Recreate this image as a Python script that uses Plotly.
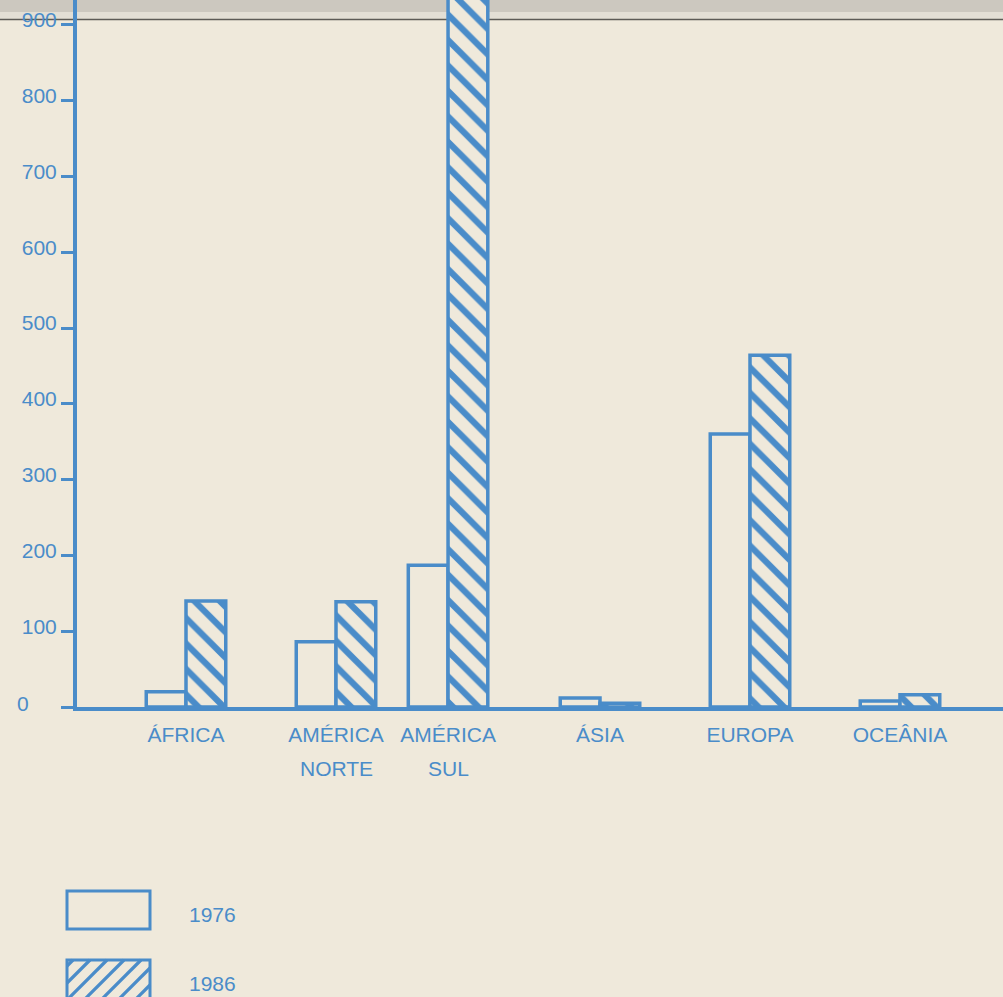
import plotly.graph_objects as go

# ---------------- data ----------------
categories = ["ÁFRICA", "AMÉRICA NORTE", "AMÉRICA SUL", "ÁSIA", "EUROPA", "OCEÂNIA"]
values_1976 = [20, 86, 187, 12, 360, 8]
values_1986 = [140, 139, 1000, 5, 464, 16]   # América Sul 1986 runs off the top of the page
series_names = ["1976", "1986"]
y_tick_values = [0, 100, 200, 300, 400, 500, 600, 700, 800, 900]
y_tick_labels = ["0", "100", "200", "300", "400", "500", "600", "700", "800", "900"]

# ---------------- layout constants ----------------
SLOT_CENTRES = [1.24, 2.24, 2.987, 4.0, 5.0, 6.0]   # group centres along the x axis (uneven in original)
BAR_W = 0.265
BLUE = "#4a8cc9"
BG = "#efe9db"
FONT = "Liberation Sans, Arial, sans-serif"
FS = 21

W, H = 1003, 997
ML, MT, MB, MR = 77, 0, 290, 0
PW, PH = W - ML - MR, H - MT - MB


def px_x(px):
    return (px - ML) / PW


def px_y(py):
    return (H - MB - py) / PH


fig = go.Figure()

fig.add_trace(go.Bar(
    x=SLOT_CENTRES, y=values_1976, name=series_names[0],
    width=BAR_W, offset=-BAR_W,
    marker=dict(color=BG, line=dict(color=BLUE, width=3.5)),
    showlegend=False,
))
fig.add_trace(go.Bar(
    x=SLOT_CENTRES, y=values_1986, name=series_names[1],
    width=BAR_W, offset=0,
    marker=dict(color=BG, line=dict(color=BLUE, width=3.5),
                pattern=dict(shape="\\", fgcolor=BLUE, bgcolor=BG, fgopacity=1,
                             size=18, solidity=0.35)),
    showlegend=False,
))

shapes = []
# scanned page top: grey band + dark rule
shapes.append(dict(type="rect", xref="paper", yref="paper", x0=-0.2, x1=1.1,
                   y0=px_y(12), y1=px_y(-5), fillcolor="#ccc8bf", line=dict(width=0), layer="below"))
shapes.append(dict(type="rect", xref="paper", yref="paper", x0=-0.2, x1=1.1,
                   y0=px_y(19), y1=px_y(12), fillcolor="#e3dfd5", line=dict(width=0), layer="below"))
shapes.append(dict(type="line", xref="paper", yref="paper", x0=-0.2, x1=1.1,
                   y0=px_y(19.5), y1=px_y(19.5), line=dict(color="#5d5b56", width=1.5), layer="below"))

# legend boxes
bx0, bx1 = 67, 150
shapes.append(dict(type="rect", xref="paper", yref="paper", x0=px_x(bx0), x1=px_x(bx1),
                   y0=px_y(929), y1=px_y(891), line=dict(color=BLUE, width=3), fillcolor="rgba(0,0,0,0)"))
by0, by1 = 960, 1002
shapes.append(dict(type="rect", xref="paper", yref="paper", x0=px_x(bx0), x1=px_x(bx1),
                   y0=px_y(by1), y1=px_y(by0), line=dict(color=BLUE, width=3), fillcolor="rgba(0,0,0,0)"))
# "/" hatching inside the 1986 legend box
step = 17
hgt = by1 - by0
c = bx0 - hgt + 6
while c < bx1:
    xa, ya = c, by1
    xb, yb = c + hgt, by0
    if xa < bx0:
        ya = by1 - (bx0 - c)
        xa = bx0
    if xb > bx1:
        yb = by1 - (bx1 - c)
        xb = bx1
    if xb > xa:
        shapes.append(dict(type="line", xref="paper", yref="paper",
                           x0=px_x(xa), y0=px_y(ya), x1=px_x(xb), y1=px_y(yb),
                           line=dict(color=BLUE, width=3.2)))
    c += step

annotations = []
# second line of multi-word category labels
for xc, name in zip(SLOT_CENTRES, categories):
    parts = name.split(" ")
    if len(parts) > 1:
        annotations.append(dict(x=xc, xref="x", y=0, yref="paper", yanchor="top",
                                yshift=-48, text=parts[1], showarrow=False,
                                font=dict(family=FONT, size=FS, color=BLUE)))
# zero label sits further left than the others in the original
annotations.append(dict(x=px_x(23), xref="paper", y=0, yref="y", yshift=4,
                        xanchor="center", yanchor="middle", text=y_tick_labels[0], showarrow=False,
                        font=dict(family=FONT, size=FS, color=BLUE)))
annotations.append(dict(x=px_x(187), xref="paper", y=px_y(914), yref="paper",
                        xanchor="left", yanchor="middle", text=series_names[0], showarrow=False,
                        font=dict(family=FONT, size=FS, color=BLUE)))
annotations.append(dict(x=px_x(187), xref="paper", y=px_y(983), yref="paper",
                        xanchor="left", yanchor="middle", text=series_names[1], showarrow=False,
                        font=dict(family=FONT, size=FS, color=BLUE)))

fig.update_layout(
    width=W, height=H,
    margin=dict(l=ML, r=MR, t=MT, b=MB, pad=0),
    paper_bgcolor=BG, plot_bgcolor="rgba(0,0,0,0)",
    barmode="overlay",
    showlegend=False,
    shapes=shapes,
    annotations=annotations,
    font=dict(family=FONT, color=BLUE),
    xaxis=dict(
        range=[ML / 150, (ML + PW) / 150],
        tickvals=SLOT_CENTRES,
        ticktext=[n.split(" ")[0] for n in categories],
        ticks="", showgrid=False, zeroline=False,
        showline=True, linecolor=BLUE, linewidth=4,
        tickfont=dict(family=FONT, size=FS, color=BLUE),
        ticklabelstandoff=6,
    ),
    yaxis=dict(
        range=[0, PH / 0.758],
        tickvals=y_tick_values,
        ticktext=[""] + y_tick_labels[1:],
        ticks="outside", ticklen=12, tickwidth=2.5, tickcolor=BLUE,
        showgrid=False, zeroline=False,
        showline=True, linecolor=BLUE, linewidth=4,
        tickfont=dict(family=FONT, size=FS, color=BLUE),
        ticklabelshift=-5,
    ),
)

fig.write_html("out.html", config={"displayModeBar": False},
               post_script="document.body.style.margin='0';document.body.style.overflow='hidden';")
